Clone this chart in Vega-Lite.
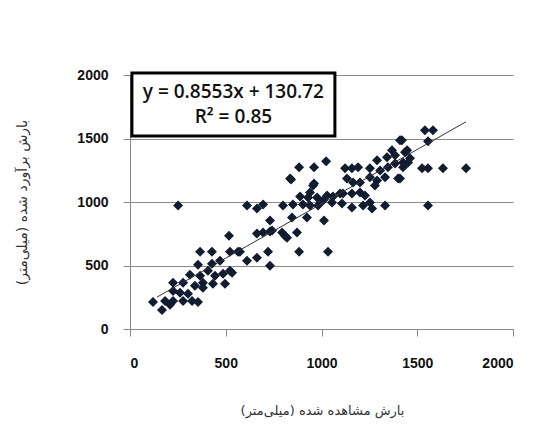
{
  "$schema": "https://vega.github.io/schema/vega-lite/v6.json",
  "width": 383,
  "height": 254,
  "autosize": {"type": "none"},
  "padding": {"left": 130, "top": 75, "right": 27, "bottom": 96},
  "background": "white",
  "config": {"view": {"stroke": null}},
  "data": {"values": [
    {"observed":120,"estimated":213},{"observed":167,"estimated":150},{"observed":183,"estimated":221},{"observed":209,"estimated":190},
    {"observed":225,"estimated":221},{"observed":225,"estimated":300},{"observed":261,"estimated":285},{"observed":303,"estimated":277},
    {"observed":277,"estimated":221},{"observed":324,"estimated":221},{"observed":355,"estimated":213},{"observed":225,"estimated":364},
    {"observed":277,"estimated":364},{"observed":339,"estimated":340},{"observed":381,"estimated":364},{"observed":433,"estimated":356},
    {"observed":496,"estimated":356},{"observed":313,"estimated":427},{"observed":366,"estimated":419},{"observed":407,"estimated":458},
    {"observed":444,"estimated":419},{"observed":486,"estimated":435},{"observed":522,"estimated":458},{"observed":355,"estimated":506},
    {"observed":428,"estimated":514},{"observed":470,"estimated":538},{"observed":366,"estimated":609},{"observed":428,"estimated":609},
    {"observed":522,"estimated":609},{"observed":564,"estimated":609},{"observed":517,"estimated":735},{"observed":251,"estimated":972},
    {"observed":381,"estimated":324},{"observed":533,"estimated":443},{"observed":574,"estimated":609},{"observed":611,"estimated":538},
    {"observed":663,"estimated":561},{"observed":731,"estimated":498},{"observed":721,"estimated":609},{"observed":663,"estimated":751},
    {"observed":695,"estimated":759},{"observed":731,"estimated":854},{"observed":742,"estimated":775},{"observed":611,"estimated":972},
    {"observed":663,"estimated":949},{"observed":695,"estimated":980},{"observed":799,"estimated":972},{"observed":851,"estimated":980},
    {"observed":794,"estimated":759},{"observed":820,"estimated":719},{"observed":846,"estimated":877},{"observed":872,"estimated":759},
    {"observed":888,"estimated":1043},{"observed":883,"estimated":609},{"observed":924,"estimated":877},{"observed":903,"estimated":980},
    {"observed":956,"estimated":1130},{"observed":982,"estimated":972},{"observed":1013,"estimated":854},{"observed":1034,"estimated":609},
    {"observed":1060,"estimated":1043},{"observed":1097,"estimated":1067},{"observed":883,"estimated":1273},{"observed":961,"estimated":1273},
    {"observed":1024,"estimated":1320},{"observed":841,"estimated":1178},{"observed":961,"estimated":1146},{"observed":930,"estimated":1036},
    {"observed":977,"estimated":1036},{"observed":1008,"estimated":1012},{"observed":809,"estimated":735},{"observed":731,"estimated":767},
    {"observed":1123,"estimated":1265},{"observed":1133,"estimated":1186},{"observed":1420,"estimated":1486},{"observed":1368,"estimated":1407},
    {"observed":1447,"estimated":1407},{"observed":1290,"estimated":1328},{"observed":1342,"estimated":1352},{"observed":1384,"estimated":1368},
    {"observed":1159,"estimated":1265},{"observed":1191,"estimated":1273},{"observed":1253,"estimated":1265},{"observed":1306,"estimated":1249},
    {"observed":1347,"estimated":1273},{"observed":1384,"estimated":1304},{"observed":1426,"estimated":1312},{"observed":1462,"estimated":1344},
    {"observed":1165,"estimated":1154},{"observed":1253,"estimated":1194},{"observed":1290,"estimated":1170},{"observed":1332,"estimated":1194},
    {"observed":1400,"estimated":1186},{"observed":1201,"estimated":1154},{"observed":1279,"estimated":1130},{"observed":940,"estimated":1075},
    {"observed":1029,"estimated":1051},{"observed":1112,"estimated":1067},{"observed":1159,"estimated":1067},{"observed":1201,"estimated":1075},
    {"observed":1227,"estimated":1051},{"observed":1055,"estimated":996},{"observed":1107,"estimated":988},{"observed":1159,"estimated":957},
    {"observed":1217,"estimated":972},{"observed":1264,"estimated":949},{"observed":1332,"estimated":972},{"observed":1253,"estimated":996},
    {"observed":940,"estimated":972},{"observed":1540,"estimated":1565},{"observed":1582,"estimated":1565},{"observed":1556,"estimated":1478},
    {"observed":1410,"estimated":1486},{"observed":1436,"estimated":1391},{"observed":1452,"estimated":1312},{"observed":1426,"estimated":1273},
    {"observed":1410,"estimated":1186},{"observed":1525,"estimated":1265},{"observed":1556,"estimated":1265},{"observed":1634,"estimated":1265},
    {"observed":1755,"estimated":1265},{"observed":1556,"estimated":972},{"observed":836,"estimated":1186}
  ]},
  "layer": [
    {
      "mark": {"type": "point", "shape": "diamond", "filled": true, "size": 100, "color": "#111c31", "opacity": 1},
      "encoding": {
        "x": {"field": "observed", "type": "quantitative",
          "scale": {"domain": [0, 2000], "nice": false, "zero": true},
          "axis": {"values": [0, 500, 1000, 1500, 2000], "format": "d", "grid": false, "domainColor": "#8a8a8a", "tickColor": "#8a8a8a", "tickSize": 7,
            "labelFont": "Liberation Sans", "labelFontWeight": "bold", "labelFontSize": 14, "labelColor": "#111111", "labelPadding": 20,
            "title": "بارش مشاهده شده (میلی‌متر)", "titleFont": "DejaVu Sans", "titleFontWeight": "normal", "titleFontSize": 13, "titleColor": "#333333",
            "titleX": 192, "titleY": 81, "titleBaseline": "middle", "titleAlign": "center"}},
        "y": {"field": "estimated", "type": "quantitative",
          "scale": {"domain": [0, 2000], "nice": false, "zero": true},
          "axis": {"values": [0, 500, 1000, 1500, 2000], "format": "d", "grid": true, "gridColor": "#8a8a8a", "gridWidth": 1, "domainColor": "#8a8a8a", "tickColor": "#8a8a8a", "tickSize": 7,
            "labelFont": "Liberation Sans", "labelFontWeight": "bold", "labelFontSize": 14, "labelColor": "#111111", "labelPadding": 15,
            "title": "بارش برآورد شده (میلی‌متر)", "titleFont": "DejaVu Sans", "titleFontWeight": "normal", "titleFontSize": 14, "titleColor": "#333333",
            "titleX": -108, "titleY": 127, "titleBaseline": "middle", "titleAlign": "center", "titleAngle": -90}}
      }
    },
    {
      "data": {"values": [{"observed": 141, "estimated": 251}, {"observed": 1755, "estimated": 1632}]},
      "mark": {"type": "line", "color": "#333333", "strokeWidth": 1},
      "encoding": {
        "x": {"field": "observed", "type": "quantitative"},
        "y": {"field": "estimated", "type": "quantitative"}
      }
    },
    {
      "data": {"values": [{}]},
      "mark": {"type": "rect", "fill": "white", "stroke": "black", "strokeWidth": 3, "clip": false},
      "encoding": {
        "x": {"datum": 10, "type": "quantitative"},
        "x2": {"datum": 1070},
        "y": {"datum": 2016, "type": "quantitative"},
        "y2": {"datum": 1520}
      }
    },
    {
      "data": {"values": [{}]},
      "mark": {"type": "text", "text": "y = 0.8553x + 130.72", "font": "Open Sans", "fontSize": 19, "fontWeight": 600, "color": "#111111", "align": "center", "baseline": "middle", "clip": false},
      "encoding": {
        "x": {"datum": 540, "type": "quantitative"},
        "y": {"datum": 1866, "type": "quantitative"}
      }
    },
    {
      "data": {"values": [{}]},
      "mark": {"type": "text", "text": "R² = 0.85", "font": "Open Sans", "fontSize": 19, "fontWeight": 600, "color": "#111111", "align": "center", "baseline": "middle", "clip": false},
      "encoding": {
        "x": {"datum": 540, "type": "quantitative"},
        "y": {"datum": 1669, "type": "quantitative"}
      }
    }
  ]
}
